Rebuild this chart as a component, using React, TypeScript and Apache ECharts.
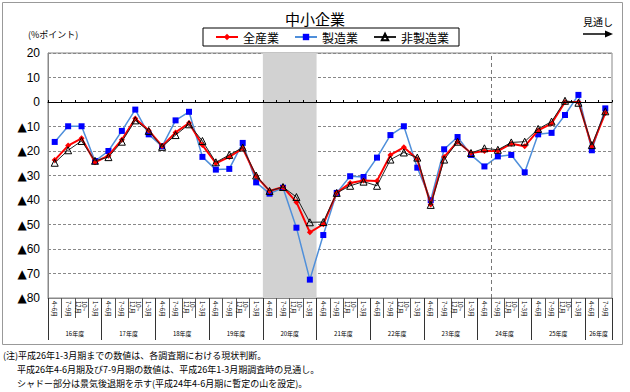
import React, { useEffect, useRef } from "react";
import * as echarts from "echarts";

// ---- data ----
const yearNames = ["16年度", "17年度", "18年度", "19年度", "20年度", "21年度", "22年度", "23年度", "24年度", "25年度", "26年度"];
const quartersPerYear = [4, 4, 4, 4, 4, 4, 4, 4, 4, 4, 2];
const quarterLabels = ["4~6月", "7~9月", "10~\n12月", "1~3月"];

const allIndustries = [-23.7, -17.8, -14.8, -24.6, -21.9, -15.4, -6.7, -11.6, -18.0, -12.4, -8.6, -17.6, -25.0, -22.4, -18.9, -30.3, -36.3, -34.7, -40.9, -53.2, -49.9, -37.1, -33.1, -32.0, -32.2, -21.6, -18.5, -23.4, -41.8, -22.4, -16.2, -20.8, -20.0, -20.0, -17.0, -18.1, -11.6, -8.8, 0.0, 0.0, -18.1, -4.5];
const manufacturing = [-16.3, -9.9, -9.9, -24.1, -20.0, -11.8, -3.1, -13.2, -18.1, -7.5, -4.0, -22.4, -27.6, -27.3, -16.7, -32.8, -37.4, -35.0, -51.3, -72.5, -54.3, -37.1, -30.3, -30.6, -22.7, -13.5, -9.9, -26.8, -40.1, -19.3, -14.3, -21.6, -26.3, -22.2, -21.6, -28.7, -13.2, -12.6, -5.3, 2.9, -19.7, -2.6];
const nonManufacturing = [-24.8, -19.7, -15.9, -24.0, -22.5, -16.2, -7.5, -11.8, -18.3, -13.5, -9.1, -15.9, -24.6, -21.6, -18.6, -30.0, -36.3, -34.7, -38.8, -49.1, -49.0, -37.1, -34.2, -32.5, -34.2, -23.5, -20.6, -22.7, -42.0, -23.5, -16.2, -20.8, -18.9, -19.5, -16.5, -16.2, -11.0, -8.0, 0.5, -0.3, -17.6, -3.8];

const seriesNames = ["全産業", "製造業", "非製造業"];
const recessionYear = "20年度";
const outlookStartIndex = 33; // boundary before 24年度7~9月 (peak)

const notes = [
  "(注)平成26年1-3月期までの数値は、各調査期における現状判断。",
  "平成26年4-6月期及び7-9月期の数値は、平成26年1-3月期調査時の見通し。",
  "シャドー部分は景気後退期を示す(平成24年4-6月期に暫定の山を設定)。",
];

// derived
const categories: string[] = [];
const yearStarts: number[] = [];
const yearCenters: number[] = [];
{
  let idx = 0;
  quartersPerYear.forEach((n) => {
    yearStarts.push(idx);
    yearCenters.push(idx + n / 2);
    for (let q = 0; q < n; q++) categories.push(quarterLabels[q]);
    idx += n;
  });
  yearStarts.push(idx);
}
const recStart = yearStarts[yearNames.indexOf(recessionYear)];
const recEnd = yearStarts[yearNames.indexOf(recessionYear) + 1];

const JP = "'Noto Sans CJK JP', sans-serif";

export default function App() {
  const ref = useRef<HTMLDivElement>(null);
  useEffect(() => {
    document.body.style.margin = "0";
    const chart = echarts.init(ref.current!, null, { renderer: "svg" });
    const option: any = {
      animation: false,
      title: {
        text: "中小企業",
        left: "center",
        top: 5,
        textStyle: { fontSize: 15, lineHeight: 17, fontWeight: "normal", color: "#000", fontFamily: JP },
      },
      legend: {
        data: seriesNames,
        left: 203,
        top: 28,
        padding: [2, 10, 2, 12],
        itemWidth: 22,
        itemHeight: 8,
        itemGap: 15,
        borderColor: "#000",
        borderWidth: 1,
        textStyle: { fontSize: 12, lineHeight: 14, color: "#000", fontFamily: JP },
      },
      grid: {
        left: 48,
        right: 18,
        top: 53,
        bottom: 94,
        show: true,
        borderColor: "#888",
        borderWidth: 1,
      },
      xAxis: [
        {
          type: "category",
          data: categories,
          boundaryGap: true,
          position: "bottom",
          axisLine: { show: true, onZero: false, lineStyle: { color: "#888" } },
          axisTick: { show: true, interval: 0, length: 20, lineStyle: { color: "#555" } },
          axisLabel: {
            interval: 0,
            rotate: -90,
            fontSize: 6,
            lineHeight: 6,
            margin: 3,
            color: "#000",
            fontFamily: JP,
          },
          splitLine: { show: false },
        },
        {
          type: "value",
          min: 0,
          max: categories.length,
          position: "bottom",
          axisLine: { show: false, onZero: false },
          axisTick: { show: true, length: 42, customValues: yearStarts, lineStyle: { color: "#333" } },
          axisLabel: {
            customValues: yearCenters,
            formatter: (v: number) => {
              const i = yearCenters.findIndex((c) => Math.abs(c - v) < 1e-6);
              return i >= 0 ? yearNames[i] : "";
            },
            margin: 32,
            fontSize: 6,
            color: "#000",
            fontFamily: JP,
          },
          splitLine: { show: false },
        },
        {
          type: "category",
          data: categories,
          boundaryGap: true,
          position: "bottom",
          z: 10,
          axisLine: { show: true, onZero: true, lineStyle: { color: "#000", width: 1 } },
          axisTick: { show: true, inside: true, interval: 0, length: 2, lineStyle: { color: "#000" } },
          axisLabel: { show: false },
          splitLine: { show: false },
        },
      ],
      yAxis: {
        type: "value",
        min: -80,
        max: 20,
        interval: 10,
        axisLine: { show: true, lineStyle: { color: "#888" } },
        axisTick: { show: false },
        axisLabel: {
          fontSize: 12,
          margin: 8,
          color: "#000",
          fontFamily: "'Liberation Sans', sans-serif",
          formatter: (v: number) => (v < 0 ? "{t|▲}" + -v : String(v)),
          rich: {
            t: { fontSize: 12, width: 10, fontFamily: "'DejaVu Sans', sans-serif", color: "#000" },
          },
        },
        splitLine: { show: true, lineStyle: { color: "#888", type: [3, 2], width: 1 } },
      },
      series: [
        {
          type: "line",
          name: "shade",
          xAxisIndex: 1,
          data: [],
          silent: true,
          markArea: {
            silent: true,
            itemStyle: { color: "#d2d2d2" },
            data: [[{ xAxis: recStart }, { xAxis: recEnd }]],
          },
          markLine: {
            silent: true,
            symbol: ["none", "none"],
            label: { show: false },
            lineStyle: { color: "#777", type: [4, 3], width: 1 },
            data: [{ xAxis: outlookStartIndex }],
          },
        },
        {
          type: "line",
          name: seriesNames[1],
          xAxisIndex: 0,
          data: manufacturing,
          symbol: "rect",
          symbolSize: 6,
          lineStyle: { color: "#4f8fda", width: 1.5 },
          itemStyle: { color: "#0000ff" },
          z: 3,
        },
        {
          type: "line",
          name: seriesNames[0],
          xAxisIndex: 0,
          data: allIndustries,
          symbol: "diamond",
          symbolSize: 6,
          lineStyle: { color: "#ff0000", width: 2 },
          itemStyle: { color: "#ff0000" },
          z: 4,
        },
        {
          type: "line",
          name: seriesNames[2],
          xAxisIndex: 0,
          data: nonManufacturing,
          symbol: "triangle",
          symbolSize: 7,
          lineStyle: { color: "#222", width: 1 },
          itemStyle: { color: "rgba(255,255,255,0)", borderColor: "#000", borderWidth: 1 },
          z: 5,
        },
      ],
      graphic: [
        {
          type: "rect",
          shape: { x: 2.5, y: 2.5, width: 620, height: 342 },
          style: { fill: "none", stroke: "#999", lineWidth: 1 },
          silent: true,
        },
        {
          type: "text",
          x: 28,
          y: 34,
          style: { text: "(%ポイント)", fontSize: 9, fill: "#000", fontFamily: JP, verticalAlign: "middle" },
        },
        {
          type: "text",
          x: 598,
          y: 21,
          style: { text: "見通し", fontSize: 10, fill: "#000", fontFamily: JP, align: "center", verticalAlign: "middle" },
        },
        {
          type: "line",
          shape: { x1: 583, y1: 34, x2: 607, y2: 34 },
          style: { stroke: "#000", lineWidth: 1.5 },
        },
        {
          type: "polygon",
          shape: { points: [[613, 34], [605, 30.5], [605, 37.5]] },
          style: { fill: "#000" },
        },
        {
          type: "text",
          x: 3,
          y: 355,
          style: { text: notes[0], fontSize: 9, fill: "#000", fontFamily: JP, verticalAlign: "middle" },
        },
        {
          type: "text",
          x: 17,
          y: 369,
          style: { text: notes[1], fontSize: 9, fill: "#000", fontFamily: JP, verticalAlign: "middle" },
        },
        {
          type: "text",
          x: 17,
          y: 383,
          style: { text: notes[2], fontSize: 9, fill: "#000", fontFamily: JP, verticalAlign: "middle" },
        },
      ],
    };
    chart.setOption(option);
    return () => chart.dispose();
  }, []);
  return <div ref={ref} style={{ width: 630, height: 392 }} />;
}
